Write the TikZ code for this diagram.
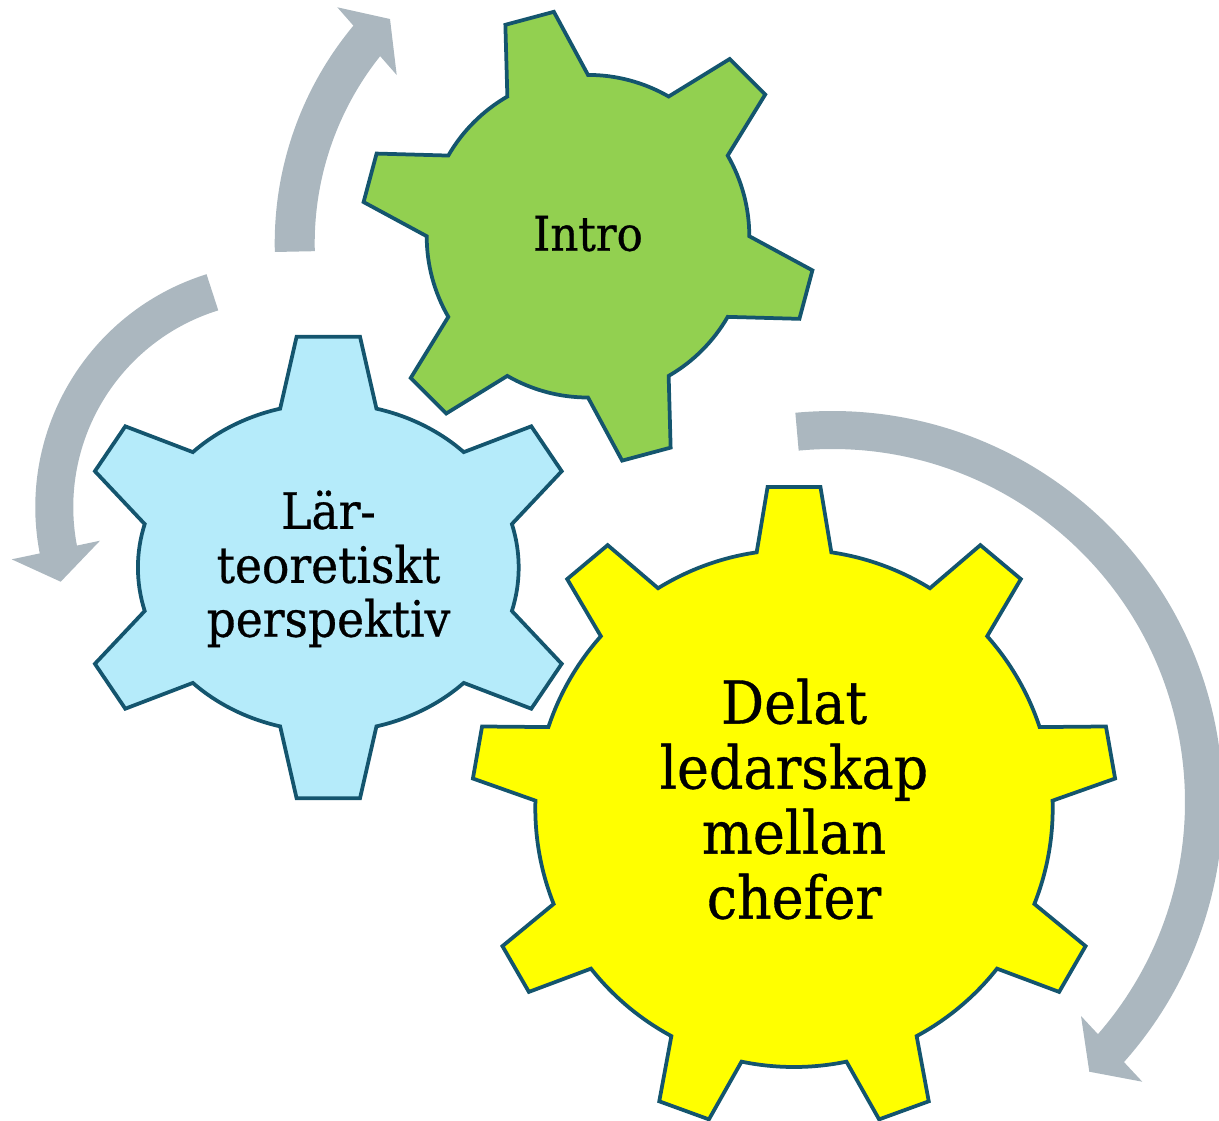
\documentclass[tikz,border=0pt]{standalone}
\usepackage{fontspec}
\setmainfont{DejaVu Serif}[FakeStretch=0.91, FakeBold=0.6]
\definecolor{arrowgray}{RGB}{171,183,191}
\definecolor{gearline}{RGB}{20,85,110}
\definecolor{gearGreen}{RGB}{146,208,80}
\definecolor{gearYellow}{RGB}{255,255,0}
\definecolor{gearBlue}{RGB}{181,235,250}
\tikzset{
  gearbase/.style={draw=gearline, line width=0.075cm, line join=miter},
  shaft/.style={draw=arrowgray, line width=#1, line cap=butt},
  head/.style={fill=arrowgray, draw=none},
  lbl/.style={align=center, text=black, inner sep=0pt, anchor=base},
}
\begin{document}
\begin{tikzpicture}[x=0.02cm,y=-0.02cm]
\useasboundingbox (0,0) rectangle (1219,1120);
\clip (0,0) rectangle (1219,1120);
% circular arrows
\begin{scope}[shift={(614.7,243.2)}]
  \draw[shaft=0.8cm] (178.5:320) arc[start angle=178.5, end angle=220, radius=320];
\end{scope}
\fill[head] (337.3,7.3) -- (390,19) -- (396.7,75) -- cycle;
\begin{scope}[shift={(279.3,507.1)}]
  \draw[shaft=0.76cm] (-107.3:225) arc[start angle=-107.3, end angle=-192, radius=225];
\end{scope}
\fill[head] (11.7,559.3) -- (60.7,581.7) -- (100,540.7) -- cycle;
\begin{scope}[shift={(832,802)}]
  \draw[shaft=0.76cm] (-95.4:372) arc[start angle=-95.4, end angle=42.4, radius=372];
\end{scope}
\fill[head] (1081,1016) -- (1089.3,1071.7) -- (1142.3,1081.7) -- cycle;
% green gear
\begin{scope}[shift={(588,236.2)}]
\filldraw[gearbase, fill=gearGreen] (-120:161.3)
  \foreach \t in {-105,-45,15,75,135,195}
  { -- ({\t-6.35}:227) -- ({\t+6.35}:227) -- ({\t+15}:161.3)
    arc[start angle={\t+15}, end angle={\t+45}, radius=161.3] } -- cycle;
\end{scope}
% blue gear
\begin{scope}[shift={(328.3,567.5)}]
\filldraw[gearbase, fill=gearBlue] (-104.65:190.4 and 164.2)
  \foreach \t/\ax/\ay/\bx/\by in {-90/-31.7/-230.8/31.7/-230.8, -30/203/-141.2/233.4/-96.3, 30/233.4/96.3/203/141.2, 90/31.7/230.8/-31.7/230.8, 150/-203/141.2/-233.4/96.3, 210/-233.4/-96.3/-203/-141.2}
  { -- (\ax,\ay) -- (\bx,\by) -- ({\t+14.65}:190.4 and 164.2)
    arc[start angle={\t+14.65}, end angle={\t+45.35}, x radius=190.4, y radius=164.2] } -- cycle;
\end{scope}
% yellow gear
\begin{scope}[shift={(794,808.3)}]
\filldraw[gearbase, fill=gearYellow] (-98.3:258.7)
  \foreach \t in {-90,-50,-10,30,70,110,150,190,230}
  { -- ({\t-4.7}:322.5) -- ({\t+4.7}:322.5) -- ({\t+8.3}:258.7)
    arc[start angle={\t+8.3}, end angle={\t+31.7}, radius=258.7] } -- cycle;
\end{scope}
% labels (anchor base = baseline of last line)
\node[lbl, font=\fontsize{27.2}{32}\selectfont] (intro) at (588,250.7) {Intro};
\node[lbl, font=\fontsize{28.5}{30.7}\selectfont] (larteori) at (328.5,636.7) {Lär-\\teoretiskt\\perspektiv};
\node[lbl, font=\fontsize{33.7}{37}\selectfont] (delat) at (794,918.6) {Delat\\ledarskap\\mellan\\chefer};
\end{tikzpicture}
\end{document}
